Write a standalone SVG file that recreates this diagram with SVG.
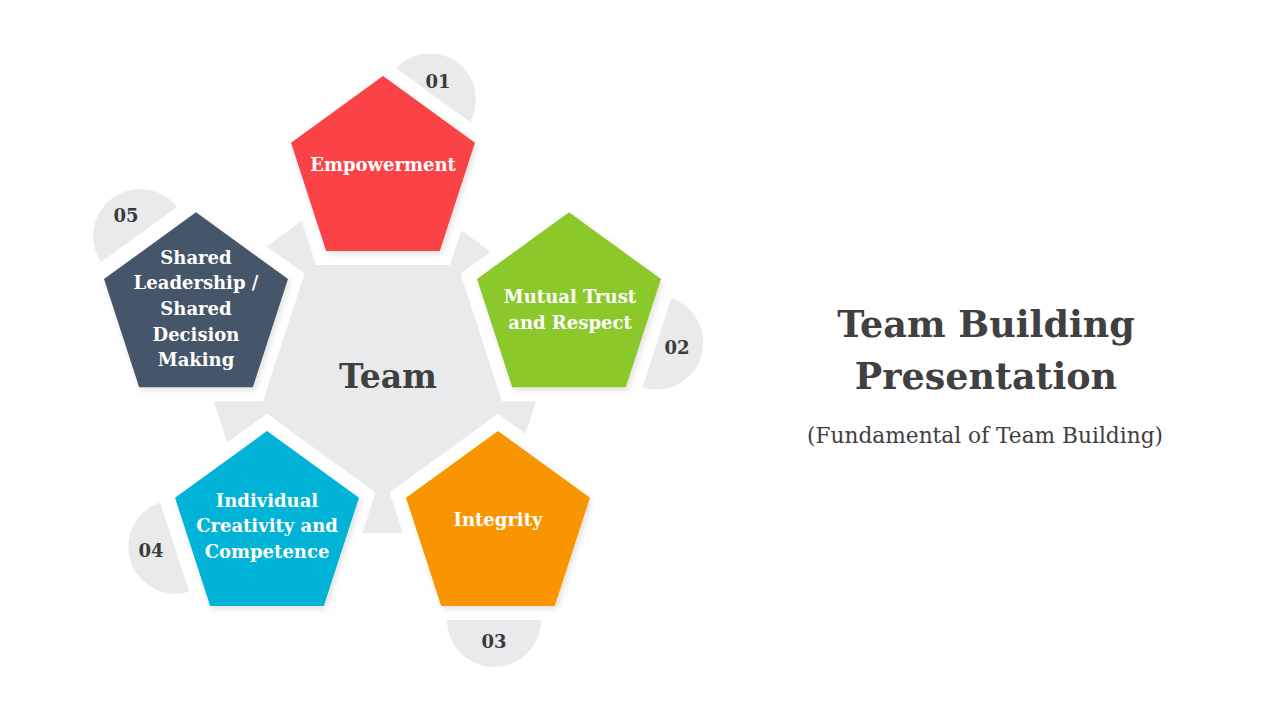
<svg xmlns="http://www.w3.org/2000/svg" width="1280" height="720" viewBox="0 0 1280 720">
<style>
.lbl{font-family:"DejaVu Serif","Liberation Serif",serif;font-weight:bold;font-size:18px;fill:#ffffff;text-anchor:middle}
.num{font-family:"DejaVu Serif","Liberation Serif",serif;font-weight:bold;font-size:18px;fill:#3b3b3b;text-anchor:middle}
.gray{fill:#E9EAEC}
.halo{fill:#ffffff;stroke:#ffffff;stroke-width:28;stroke-linejoin:miter}
.title{font-family:"DejaVu Serif","Liberation Serif",serif;font-weight:bold;font-size:36.5px;fill:#404040;text-anchor:middle}
.sub{font-family:"DejaVu Serif","Liberation Serif",serif;font-size:21.7px;fill:#404040;text-anchor:middle}
.center{font-family:"DejaVu Serif","Liberation Serif",serif;font-weight:bold;font-size:33px;fill:#404040;text-anchor:middle}
</style>
<defs>
<path id="pent" d="M0,-96.7 L91.97,-29.88 L56.84,78.23 L-56.84,78.23 L-91.97,-29.88 Z"/>
<filter id="sh" x="-20%" y="-20%" width="140%" height="140%">
<feDropShadow dx="2" dy="3" stdDeviation="3" flood-color="#000" flood-opacity="0.12"/>
</filter>
</defs>
<rect width="1280" height="720" fill="#ffffff"/>
<g id="core">
<polygon class="gray" points="375,168 183,307 257,533 493,533 567,307"/>
</g>
<g id="badges">
<path class="gray" d="M393.8,71 A46,46 0 0 1 468.2,125 Z"/>
<path class="gray" d="M671.4,298.2 A47,47 0 0 1 642.4,387.6 Z"/>
<path class="gray" d="M541,620 A47,47 0 0 1 447,620 Z"/>
<path class="gray" d="M189.1,591.7 A47,47 0 0 1 160.1,502.3 Z"/>
<path class="gray" d="M101,262.2 A47,47 0 0 1 177,207 Z"/>
</g>
<g id="halos">
<use href="#pent" class="halo" transform="translate(383,172.7)"/>
<use href="#pent" class="halo" transform="translate(569,309)"/>
<use href="#pent" class="halo" transform="translate(498,527.7)"/>
<use href="#pent" class="halo" transform="translate(267,527.7)"/>
<use href="#pent" class="halo" transform="translate(196,309)"/>
</g>
<text class="center" x="388" y="388">Team</text>
<g id="node1">
<use href="#pent" fill="#FB4246" filter="url(#sh)" transform="translate(383,172.7)"/>
<text class="lbl" x="383" y="171">Empowerment</text>
<text class="num" x="438" y="88">01</text>
</g>
<g id="node2">
<use href="#pent" fill="#8BC829" filter="url(#sh)" transform="translate(569,309)"/>
<text class="lbl" x="570" y="303">Mutual Trust</text>
<text class="lbl" x="570" y="328.5">and Respect</text>
<text class="num" x="677" y="354">02</text>
</g>
<g id="node3">
<use href="#pent" fill="#F99500" filter="url(#sh)" transform="translate(498,527.7)"/>
<text class="lbl" x="498" y="526">Integrity</text>
<text class="num" x="494" y="647.5">03</text>
</g>
<g id="node4">
<use href="#pent" fill="#00B3D7" filter="url(#sh)" transform="translate(267,527.7)"/>
<text class="lbl" x="267" y="506.5">Individual</text>
<text class="lbl" x="267" y="532">Creativity and</text>
<text class="lbl" x="267" y="557.5">Competence</text>
<text class="num" x="151" y="556.5">04</text>
</g>
<g id="node5">
<use href="#pent" fill="#44546A" filter="url(#sh)" transform="translate(196,309)"/>
<text class="lbl" x="196" y="263.5">Shared</text>
<text class="lbl" x="196" y="289.2">Leadership /</text>
<text class="lbl" x="196" y="314.9">Shared</text>
<text class="lbl" x="196" y="340.6">Decision</text>
<text class="lbl" x="196" y="366.3">Making</text>
<text class="num" x="126" y="221.5">05</text>
</g>
<g id="title">
<text class="title" x="986" y="337">Team Building</text>
<text class="title" x="986" y="389">Presentation</text>
<text class="sub" x="985" y="443">(Fundamental of Team Building)</text>
</g>
<g id="connectors"></g>
</svg>
